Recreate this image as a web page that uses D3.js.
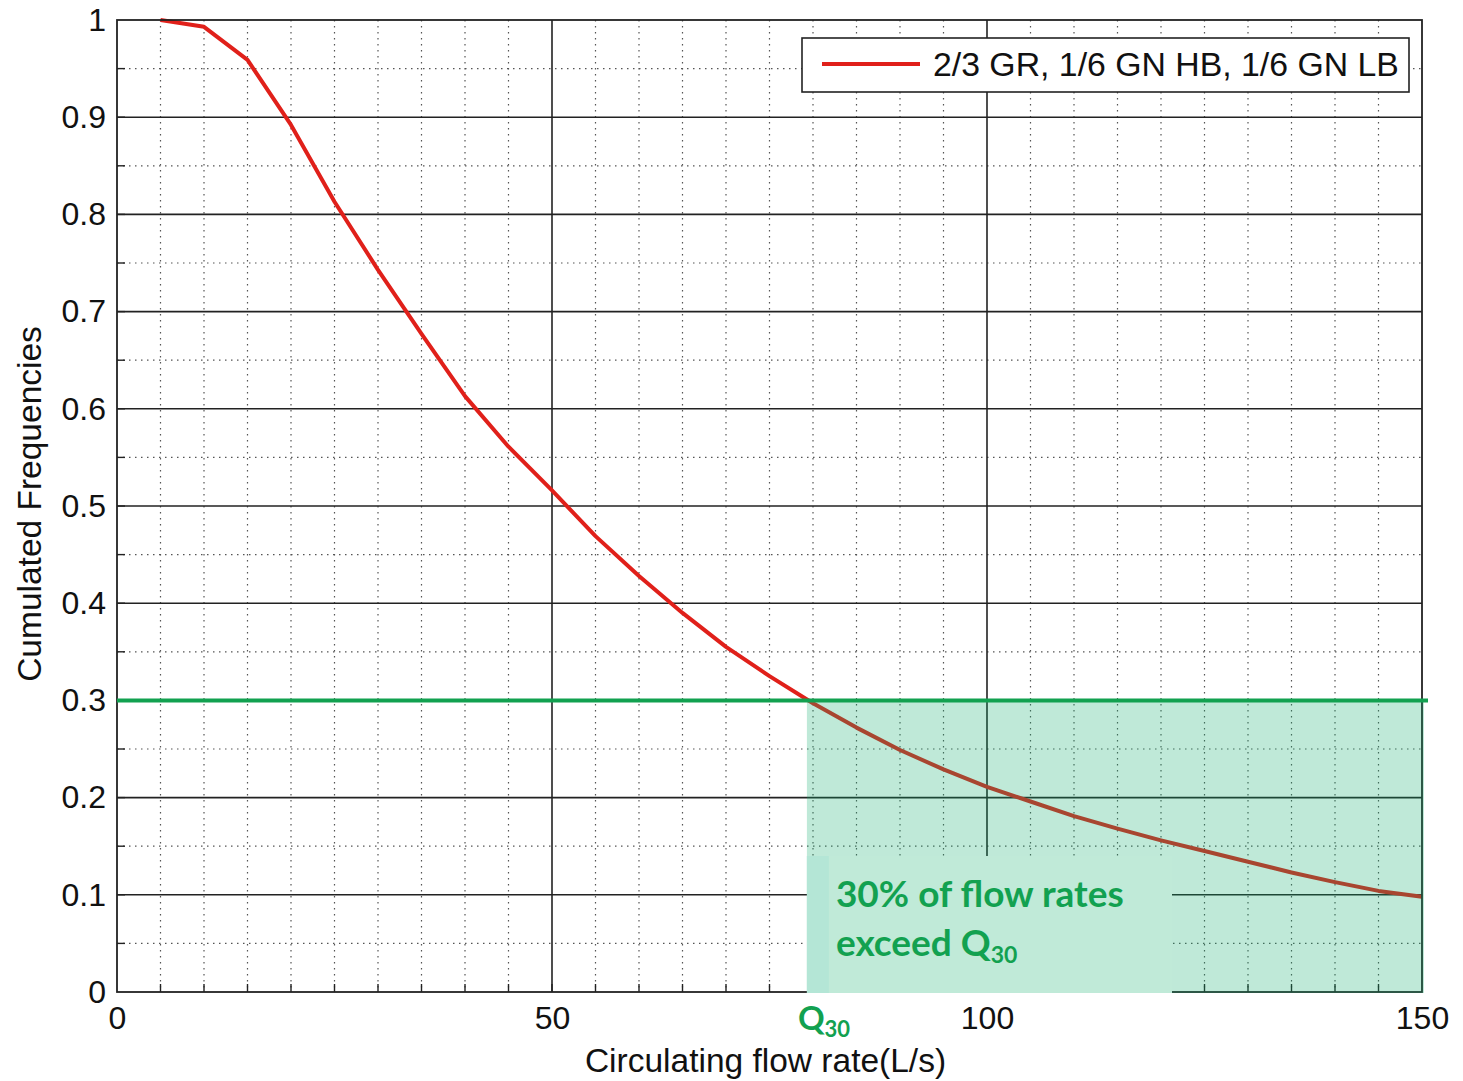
<!DOCTYPE html>
<html>
<head>
<meta charset="utf-8">
<script src="https://cdn.jsdelivr.net/npm/d3@7"></script>
<style>
  html, body { margin: 0; padding: 0; background: #fff; }
  svg { display: block; }
</style>
</head>
<body>
<svg id="chart" width="1463" height="1081"></svg>
<script>
// Cumulated frequency curve of the circulating flow rate
const flowRates = [5, 10, 15, 20, 25, 30, 35, 40, 45, 50, 55, 60, 65, 70, 75, 80, 85, 90, 95, 100,
                   105, 110, 115, 120, 125, 130, 135, 140, 145, 150];
const cumFreq   = [1.0, 0.993, 0.959, 0.892, 0.813, 0.743, 0.677, 0.613, 0.561, 0.516, 0.469, 0.428, 0.39, 0.355, 0.325,
                   0.297, 0.272, 0.249, 0.229, 0.211, 0.196, 0.181, 0.168, 0.156, 0.145, 0.134, 0.123, 0.113, 0.104, 0.098];
const seriesName = "2/3 GR, 1/6 GN HB, 1/6 GN LB";

const xTicks = [0, 50, 100, 150];
const yTicks = [0, 0.1, 0.2, 0.3, 0.4, 0.5, 0.6, 0.7, 0.8, 0.9, 1];
const xMinor = d3.range(5, 150, 5);
const yMinor = d3.range(0.05, 1, 0.1);

const threshold = 0.3;      // exceedance level
const q30 = 79.3;           // flow rate where the curve reaches the threshold

const svg = d3.select("#chart");
const m = { left: 117, right: 1422, top: 20, bottom: 992 };

const x = d3.scaleLinear().domain([0, 150]).range([m.left, m.right]);
const y = d3.scaleLinear().domain([0, 1]).range([m.bottom, m.top]);

const axisFont = "'Liberation Sans', Arial, sans-serif";
const noteFont = "Lato, 'Open Sans', sans-serif";
const green = "#12a150";

// dotted minor grid
const grid = svg.append("g");
grid.selectAll(".vx").data(xMinor.filter(v => !xTicks.includes(v))).join("line")
  .attr("x1", d => x(d)).attr("x2", d => x(d)).attr("y1", m.top).attr("y2", m.bottom)
  .attr("stroke", "#555").attr("stroke-width", 1.2).attr("stroke-dasharray", "1.5 4.5");
grid.selectAll(".hy").data(yMinor).join("line")
  .attr("y1", d => y(d)).attr("y2", d => y(d)).attr("x1", m.left).attr("x2", m.right)
  .attr("stroke", "#555").attr("stroke-width", 1.2).attr("stroke-dasharray", "1.5 4.5");

// solid major grid
grid.selectAll(".mx").data(xTicks.slice(1, -1)).join("line")
  .attr("x1", d => x(d)).attr("x2", d => x(d)).attr("y1", m.top).attr("y2", m.bottom)
  .attr("stroke", "#222").attr("stroke-width", 1.6);
grid.selectAll(".my").data(yTicks.slice(1, -1)).join("line")
  .attr("y1", d => y(d)).attr("y2", d => y(d)).attr("x1", m.left).attr("x2", m.right)
  .attr("stroke", "#222").attr("stroke-width", 1.6);

// curve
const pts = flowRates.map((f, i) => [f, cumFreq[i]]);
svg.append("path")
  .datum(pts)
  .attr("fill", "none")
  .attr("stroke", "#e0201a")
  .attr("stroke-width", 4)
  .attr("stroke-linejoin", "round")
  .attr("d", d3.line().x(d => x(d[0])).y(d => y(d[1])));

// axes (labels outside the frame)
const xAxis = d3.axisBottom(x).tickValues(xTicks).tickSize(0).tickPadding(14).tickFormat(d3.format("d"));
const gx = svg.append("g").attr("transform", `translate(0,${m.bottom})`).call(xAxis);
const yAxis = d3.axisLeft(y).tickValues(yTicks).tickSize(0).tickPadding(11).tickFormat(d => d === 0 || d === 1 ? d3.format("d")(d) : d3.format(".1f")(d));
const gy = svg.append("g").attr("transform", `translate(${m.left},0)`).call(yAxis);
[gx, gy].forEach(g => {
  g.select(".domain").remove();
  g.selectAll("text").attr("font-family", axisFont).attr("font-size", 32).attr("fill", "#111");
});

// minor tick marks along the bottom and left edges
svg.append("g").selectAll("line").data(xMinor).join("line")
  .attr("x1", d => x(d)).attr("x2", d => x(d)).attr("y1", m.bottom).attr("y2", m.bottom - 8)
  .attr("stroke", "#222").attr("stroke-width", 1.4);
svg.append("g").selectAll("line").data(d3.range(0.05, 1, 0.05)).join("line")
  .attr("y1", d => y(d)).attr("y2", d => y(d)).attr("x1", m.left).attr("x2", m.left + 8)
  .attr("stroke", "#222").attr("stroke-width", 1.4);

// frame
svg.append("rect")
  .attr("x", m.left).attr("y", m.top).attr("width", m.right - m.left).attr("height", m.bottom - m.top)
  .attr("fill", "none").attr("stroke", "#222").attr("stroke-width", 1.8);

// exceedance area
svg.append("rect")
  .attr("x", x(q30)).attr("y", y(threshold))
  .attr("width", m.right + 2 - x(q30)).attr("height", y(0) - y(threshold) + 1)
  .attr("fill", "rgb(20,175,110)").attr("fill-opacity", 0.27);

// annotation panel
svg.append("rect")
  .attr("x", x(q30)).attr("y", 856)
  .attr("width", 1172 - x(q30)).attr("height", y(0) - 856 + 1)
  .attr("fill", "rgb(192,234,216)");
svg.append("rect")
  .attr("x", x(q30)).attr("y", 856)
  .attr("width", 22).attr("height", y(0) - 856 + 1)
  .attr("fill", "rgb(180,230,214)");

const note = svg.append("g").attr("font-family", noteFont).attr("font-weight", 700).attr("fill", green);
note.append("text").attr("x", x(q30) + 29).attr("y", 907).attr("font-size", 37).text("30% of flow rates");
const n2 = note.append("text").attr("x", x(q30) + 29).attr("y", 956).attr("font-size", 37);
n2.append("tspan").text("exceed Q");
n2.append("tspan").attr("font-size", 23).attr("dy", 7).text("30");

// threshold line
svg.append("line")
  .attr("x1", m.left).attr("x2", m.right + 6)
  .attr("y1", y(threshold)).attr("y2", y(threshold))
  .attr("stroke", green).attr("stroke-width", 4);

// Q30 marker on the x axis
const qLab = svg.append("text").attr("x", x(q30) - 9).attr("y", 1030)
  .attr("font-family", noteFont).attr("font-weight", 700).attr("font-size", 33).attr("fill", green);
qLab.append("tspan").text("Q");
qLab.append("tspan").attr("font-size", 22).attr("dy", 7).text("30");

// axis titles
svg.append("text")
  .attr("x", (m.left + m.right) / 2 - 4).attr("y", 1072)
  .attr("text-anchor", "middle")
  .attr("font-family", axisFont).attr("font-size", 33.5).attr("fill", "#111")
  .text("Circulating flow rate(L/s)");
svg.append("text")
  .attr("transform", `translate(41,${(m.top + m.bottom) / 2 - 2}) rotate(-90)`)
  .attr("text-anchor", "middle")
  .attr("font-family", axisFont).attr("font-size", 33.5).attr("fill", "#111")
  .text("Cumulated Frequencies");

// legend
const lg = svg.append("g");
lg.append("rect").attr("x", 802).attr("y", 38).attr("width", 607).attr("height", 54)
  .attr("fill", "#fff").attr("stroke", "#222").attr("stroke-width", 1.6);
lg.append("line").attr("x1", 822).attr("x2", 920).attr("y1", 64).attr("y2", 64)
  .attr("stroke", "#e0201a").attr("stroke-width", 4);
lg.append("text").attr("x", 933).attr("y", 76)
  .attr("font-family", axisFont).attr("font-size", 33.8).attr("fill", "#111")
  .text(seriesName);
</script>
</body>
</html>
